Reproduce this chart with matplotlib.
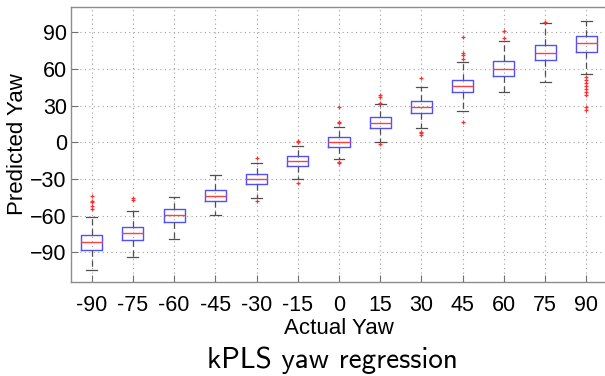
import matplotlib
matplotlib.use("Agg")
import matplotlib.pyplot as plt

# actual yaw categories
yaw = [-90, -75, -60, -45, -30, -15, 0, 15, 30, 45, 60, 75, 90]

# box stats
med = [-82.0, -74.3, -59.8, -44.3, -29.8, -15.1, 0.0, 16.1, 28.7, 45.9, 59.8, 73.4, 81.2]
q1 = [-88.3, -80.1, -65.3, -48.4, -34.2, -19.4, -3.6, 12.0, 24.3, 41.0, 54.6, 67.2, 74.3]
q3 = [-75.7, -69.7, -54.9, -39.3, -26.0, -11.5, 4.1, 20.5, 33.6, 51.1, 66.4, 79.5, 86.9]
whislo = [-104.7, -94.3, -79.5, -59.8, -45.4, -30.1, -13.4, 0.2, 11.5, 25.7, 41.0, 49.2, 56.0]
whishi = [-61.0, -56.1, -44.6, -27.0, -16.7, -2.8, 12.8, 31.1, 45.1, 65.6, 83.3, 98.0, 99.7]
fliers = [
    [-43.8, -48.0, -49.3, -52.1, -54.8],
    [-45.4, -47.3],
    [],
    [],
    [-13.1, -48.4],
    [1.3, 0.0, -33.1],
    [28.7, 16.9, 15.6, -15.9, -17.2],
    [38.8, 36.9, 32.5, -1.4],
    [53.0, 8.7, 7.4, 6.0],
    [86.1, 73.0, 71.6, 68.0, 16.9],
    [91.5, 85.2],
    [98.4],
    [53.3, 50.8, 48.3, 46.0, 43.6, 41.1, 38.7, 29.2, 26.8],
]

stats = []
for i in range(len(yaw)):
    stats.append(dict(med=med[i], q1=q1[i], q3=q3[i], whislo=whislo[i],
                      whishi=whishi[i], fliers=fliers[i], label=str(yaw[i])))

fig = plt.figure(figsize=(6.05, 3.76), dpi=100)
ax = fig.add_axes([71/605, 94/376, 536/605, 275/376])

ax.bxp(stats, positions=range(1, len(yaw)+1), widths=0.51,
       boxprops=dict(color='#5050ff', linewidth=1.0),
       medianprops=dict(color='#ff4040', linewidth=1.0),
       whiskerprops=dict(color='#505050', linewidth=0.9, linestyle=(0, (5, 3))),
       capprops=dict(color='#505050', linewidth=0.9),
       capwidths=0.26,
       flierprops=dict(marker='+', markeredgecolor='#ff3030', markersize=3.5, markeredgewidth=0.9),
       zorder=3)

ax.set_xlim(0.5, 13.5)
ax.set_ylim(-114.5, 110.9)
ax.set_yticks([-90, -60, -30, 0, 30, 60, 90])
ax.set_xticks(range(1, len(yaw)+1))
ax.set_xticklabels([str(v) for v in yaw])

ax.grid(True, linestyle=(0, (1, 3)), color='#a0a0a0', linewidth=0.8)
ax.set_axisbelow(True)
for s in ax.spines.values():
    s.set_color('#8c8c8c')
    s.set_linewidth(1.0)
ax.tick_params(direction='in', length=5, color='#707070', labelsize=15.5)
ax.tick_params(axis='x', pad=9.5)
ax.tick_params(axis='y', pad=3)
for lab in ax.get_xticklabels() + ax.get_yticklabels():
    lab.set_family('Liberation Sans')

ax.set_xlabel('Actual Yaw', family='Liberation Sans', fontsize=16, labelpad=1)
ax.set_ylabel('Predicted Yaw', family='Liberation Sans', fontsize=16, labelpad=1.5)

fig.text(332/605, 1 - 360/376, 'kPLS yaw regression', family='cmss10',
         fontsize=21, ha='center', va='center')

fig.savefig('out.png', dpi=100)
